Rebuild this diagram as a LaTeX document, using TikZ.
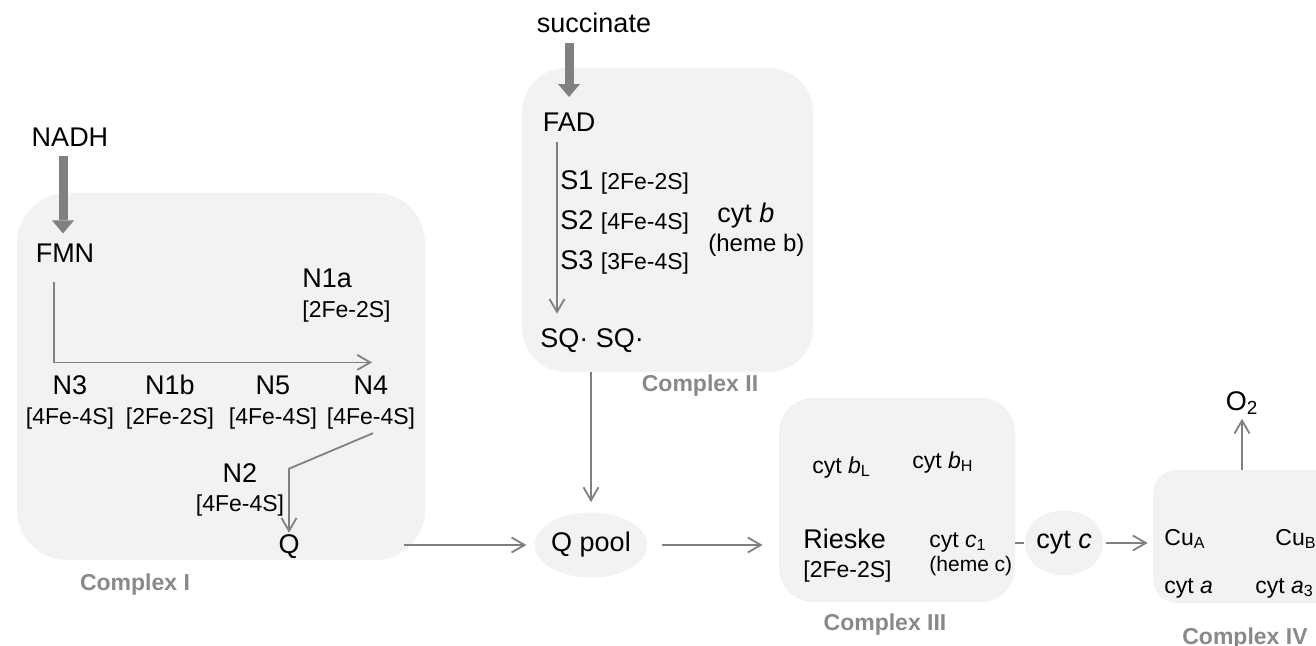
\documentclass[tikz,border=0pt]{standalone}
\usepackage{fontspec}
\setmainfont{Liberation Sans}
\usetikzlibrary{arrows.meta,shapes.geometric,calc}

\definecolor{boxgray}{RGB}{242,242,242}
\definecolor{linegray}{RGB}{128,128,128}
\definecolor{labelgray}{RGB}{137,137,137}

\newcommand{\mainsize}{\fontsize{13.5}{16}\selectfont}
\newcommand{\clustersize}{\fontsize{11.5}{14}\selectfont}

\begin{document}
\begin{tikzpicture}[x=0.5pt,y=-0.5pt,>={Straight Barb[length=6.5pt,width=7.5pt]},
  complex/.style={rectangle,fill=boxgray,inner sep=0pt},
  pool/.style={ellipse,fill=boxgray,inner sep=0pt,font=\mainsize},
  site/.style={inner sep=0pt,anchor=base,font=\mainsize},
  cluster/.style={site,font=\clustersize},
  complexname/.style={site,font=\clustersize\bfseries,text=labelgray},
  flow/.style={color=linegray,line width=0.9pt},
  feed/.style={draw=linegray,line width=4.5pt,-{Triangle[length=6.5pt 0,width=11pt 0,line width=0pt]}}]
\useasboundingbox (0,0) rectangle (1316,646);
\clip (0,0) rectangle (1316,646);

% the four complexes and the two mobile carriers
  \node[complex,minimum width=204pt,minimum height=183.5pt,rounded corners=25pt] (ci)   at (221,376.5)  {};
  \node[complex,minimum width=145.5pt,minimum height=152pt,rounded corners=22pt] (cii)  at (667.5,220)  {};
  \node[complex,minimum width=118pt,minimum height=102pt,rounded corners=17pt]   (ciii) at (897,500)    {};
  \node[complex,minimum width=96pt,minimum height=66.5pt,rounded corners=12pt]   (civ)  at (1249,536.5) {};
  \node[pool,minimum width=51.5pt,minimum height=32.5pt] (qpool) at (591,545)  {Q pool};
  \node[pool,minimum width=39pt,minimum height=32.5pt]   (cytc)  at (1064,543) {cyt \textit{c}};

  \node[complexname] (ciname)   at (135,590)  {Complex I};
  \node[complexname] (ciiname)  at (700,392)  {Complex II};
  \node[complexname] (ciiiname) at (885,630)  {Complex III};
  \node[complexname] (civname)  at (1245,644) {Complex IV};

% complex I
  \node[site]                 (nadh) at (70,147)  {NADH};
  \node[site]                 (fmn)  at (65,263)  {FMN};
  \node[site,anchor=base west]    (n1a)  at (302,288) {N1a};
  \node[cluster,anchor=base west] (n1ac) at (302,318) {[2Fe-2S]};
  \node[site]    (n3)   at (70,394)  {N3};
  \node[cluster] (n3c)  at (70,424)  {[4Fe-4S]};
  \node[site]    (n1b)  at (170,394) {N1b};
  \node[cluster] (n1bc) at (170,424) {[2Fe-2S]};
  \node[site]    (n5)   at (273,394) {N5};
  \node[cluster] (n5c)  at (273,424) {[4Fe-4S]};
  \node[site]    (n4)   at (371,394) {N4};
  \node[cluster] (n4c)  at (371,424) {[4Fe-4S]};
  \node[site]    (n2)   at (240,482) {N2};
  \node[cluster] (n2c)  at (240,511) {[4Fe-4S]};
  \node[site]    (q)    at (289,553) {Q};

% complex II
  \node[site] (succ) at (594,33)  {succinate};
  \node[site] (fad)  at (569,132) {FAD};
  \node[site,anchor=base west] (s1) at (560,190) {S1 {\clustersize[2Fe-2S]}};
  \node[site,anchor=base west] (s2) at (560,230) {S2 {\clustersize[4Fe-4S]}};
  \node[site,anchor=base west] (s3) at (560,270) {S3 {\clustersize[3Fe-4S]}};
  \node[site,anchor=base west] (cytb)  at (717,223) {cyt \textit{b}};
  \node[site,anchor=base west,font=\fontsize{12}{14}\selectfont] (hemeb) at (708,252) {(heme b)};
  \node[site,anchor=base west] (sq) at (540,348) {SQ· SQ·};

% complex III
  \node[cluster,anchor=base west] (cytbl)   at (812,473) {cyt \textit{b}\textsubscript{L}};
  \node[cluster,anchor=base west] (cytbh)   at (912,468) {cyt \textit{b}\textsubscript{H}};
  \node[site,anchor=base west]    (rieske)  at (803,548) {Rieske};
  \node[cluster,anchor=base west] (rieskec) at (803,577) {[2Fe-2S]};
  \node[cluster,anchor=base west] (cytci)   at (929,547) {cyt \textit{c}\textsubscript{1}};
  \node[site,anchor=base west,font=\fontsize{10.5}{12}\selectfont] (hemec) at (929,571) {(heme c)};

% complex IV
  \node[cluster,anchor=base west] (cua)   at (1164,545) {Cu\textsubscript{A}};
  \node[cluster,anchor=base west] (cub)   at (1275,545) {Cu\textsubscript{B}};
  \node[cluster,anchor=base west] (cyta)  at (1164,593) {cyt \textit{a}};
  \node[cluster,anchor=base west] (cytaa) at (1255,593) {cyt \textit{a}\textsubscript{3}};
  \node[site] (o2) at (1242,410) {O\textsubscript{2}};

% electron entry
  \draw[feed] ($(nadh.south -| fmn.north)+(-1pt,-4.5pt)$) -- ($(fmn.north)+(-1pt,5.3pt)$);
  \draw[feed] ($(succ.south -| fad.north)+(0,-4.5pt)$) -- ($(fad.north)+(0,8pt)$);

% transfer inside the complexes
  \draw[flow,->] ($(fmn.south)+(-5.5pt,-9.5pt)$) |- ($(n4.north)+(0.5pt,6.3pt)$);
  \draw[flow,->] ($(n4c.south)+(1pt,-2pt)$) -- ($(q.north)+(0,32.5pt)$) -- ($(q.north)+(0,0.5pt)$);
  \draw[flow,->] ($(fad.south)+(-6pt,-5pt)$) -- ($(fad.south |- sq.north)+(-6pt,7.5pt)$);

% transfer between the complexes
  \path[flow,->]
    ($(ci.east |- qpool.west)+(-10.5pt,0)$) edge [shorten >=4pt] (qpool.west)
    (qpool.north |- cii.south) edge [shorten >=5pt] (qpool.north)
    (qpool.east) edge [shorten <=7pt,shorten >=8pt] (qpool.east -| ciii.west)
    (cytc.east)  edge [shorten <=1pt,shorten >=2.5pt] (cytc.east -| civ.west)
    (o2.south |- civ.north) edge [shorten >=2pt] (o2.south);
  \draw[flow] (cytc.west -| ciii.east) -- (cytc.west);
\end{tikzpicture}
\end{document}
